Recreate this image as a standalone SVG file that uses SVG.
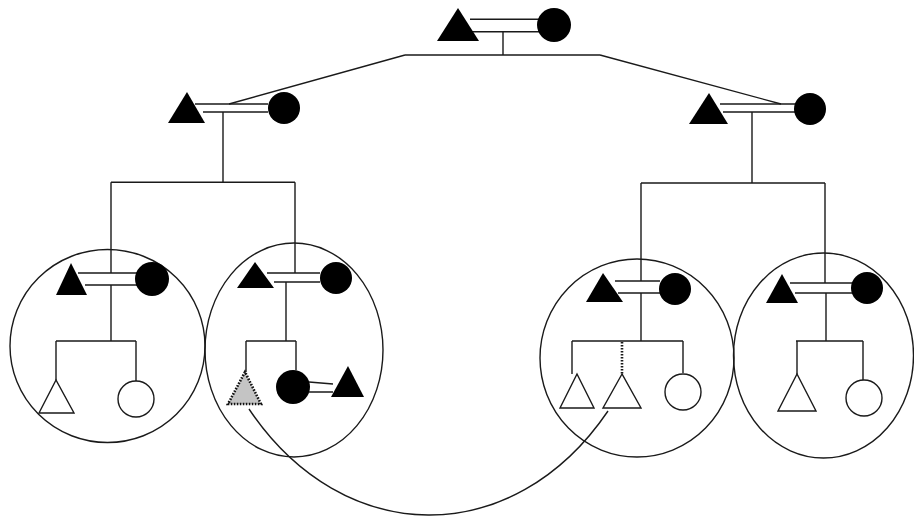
<svg xmlns="http://www.w3.org/2000/svg" width="914" height="517" viewBox="0 0 914 517">
<style>
.ln{fill:none;stroke:#1a1a1a;stroke-width:1.4}
.dot{fill:none;stroke:#1a1a1a;stroke-width:2.6;stroke-dasharray:1.6 1.4}
.hh{fill:none;stroke:#1a1a1a;stroke-width:1.4}
.m{fill:#000}
.f{fill:#000}
.om{fill:#fff;stroke:#1a1a1a;stroke-width:1.4}
.gm{fill:#c4c4c4;stroke:#111;stroke-width:2.6;stroke-dasharray:1.6 1.4}
</style>
<rect width="914" height="517" fill="#fff"/>
<g id="households">
  <ellipse class="hh" cx="107.5" cy="346" rx="97.5" ry="96.5"/>
  <ellipse class="hh" cx="294" cy="350" rx="89" ry="107"/>
  <ellipse class="hh" cx="637" cy="358" rx="97" ry="99"/>
  <ellipse class="hh" cx="823.5" cy="355.5" rx="90" ry="102.5"/>
</g>
<g id="connectors">
  <path class="ln" d="M470,19.3H545M472,31.7H540M503,31.7V55M405,55H600M405,55L229,104M600,55L781,104"/>
  <path class="ln" d="M195,104H268M203,112H268M223,112V182.3M111,182.3H295M111,182.3V273M295,182.3V273"/>
  <path class="ln" d="M720,104H795M723,112H795M752,112V183M641,183H825M641,183V281M825,183V283"/>
  <path class="ln" d="M78,273H137M85,285H137M111,285V341M56,341H136M56,341V380M136,341V381"/>
  <path class="ln" d="M267,273H320M274,282H320M286,282V341M246,341H296M246,341V372M296,341V370M309,382L333,384M309,392H333"/>
  <path class="ln" d="M615,281H660M618,293H660M641,293V341M572,341H683M572,341V374M683,341V373"/>
  <path class="dot" d="M622,342V374"/>
  <path class="ln" d="M790,283H852M795,293H852M826,293V341M796,341H863M797,341V374M863,341V380"/>
  <path class="ln" d="M249,409C343,549 513,551 608,411"/>
</g>
<g id="gen1">
  <polygon id="g1-male" class="m" points="458,8 437,41 479,41"/>
  <circle id="g1-female" class="f" cx="554" cy="25" r="17"/>
</g>
<g id="gen2-left">
  <polygon id="g2l-male" class="m" points="187,92 168,123 205,123"/>
  <circle id="g2l-female" class="f" cx="284" cy="108" r="16"/>
</g>
<g id="gen2-right">
  <polygon id="g2r-male" class="m" points="709,93 689,124 728,124"/>
  <circle id="g2r-female" class="f" cx="810" cy="109" r="16"/>
</g>
<g id="family1">
  <polygon id="f1-male" class="m" points="71,263 56,295 87,295"/>
  <circle id="f1-female" class="f" cx="152" cy="279" r="17"/>
  <polygon id="f1-son" class="om" points="56,380 39,413 74,413"/>
  <circle id="f1-daughter" class="om" cx="136" cy="399" r="18"/>
</g>
<g id="family2">
  <polygon id="f2-male" class="m" points="255,262 237,288 274,288"/>
  <circle id="f2-female" class="f" cx="336" cy="278" r="16"/>
  <polygon id="f2-son" class="gm" points="245,372 228,404 261,404"/>
  <circle id="f2-daughter" class="f" cx="293" cy="387" r="17"/>
  <polygon id="f2-daughter-spouse" class="m" points="348,366 331,397 364,397"/>
</g>
<g id="family3">
  <polygon id="f3-male" class="m" points="603,273 586,302 623,302"/>
  <circle id="f3-female" class="f" cx="675" cy="289" r="16"/>
  <polygon id="f3-son1" class="om" points="577,374 560,408 594,408"/>
  <polygon id="f3-son2" class="om" points="622,374 603,408 641,408"/>
  <circle id="f3-daughter" class="om" cx="683" cy="392" r="18"/>
</g>
<g id="family4">
  <polygon id="f4-male" class="m" points="782,274 766,303 798,303"/>
  <circle id="f4-female" class="f" cx="867" cy="288" r="16"/>
  <polygon id="f4-son" class="om" points="797,374 778,411 816,411"/>
  <circle id="f4-daughter" class="om" cx="864" cy="398" r="18"/>
</g>
</svg>
